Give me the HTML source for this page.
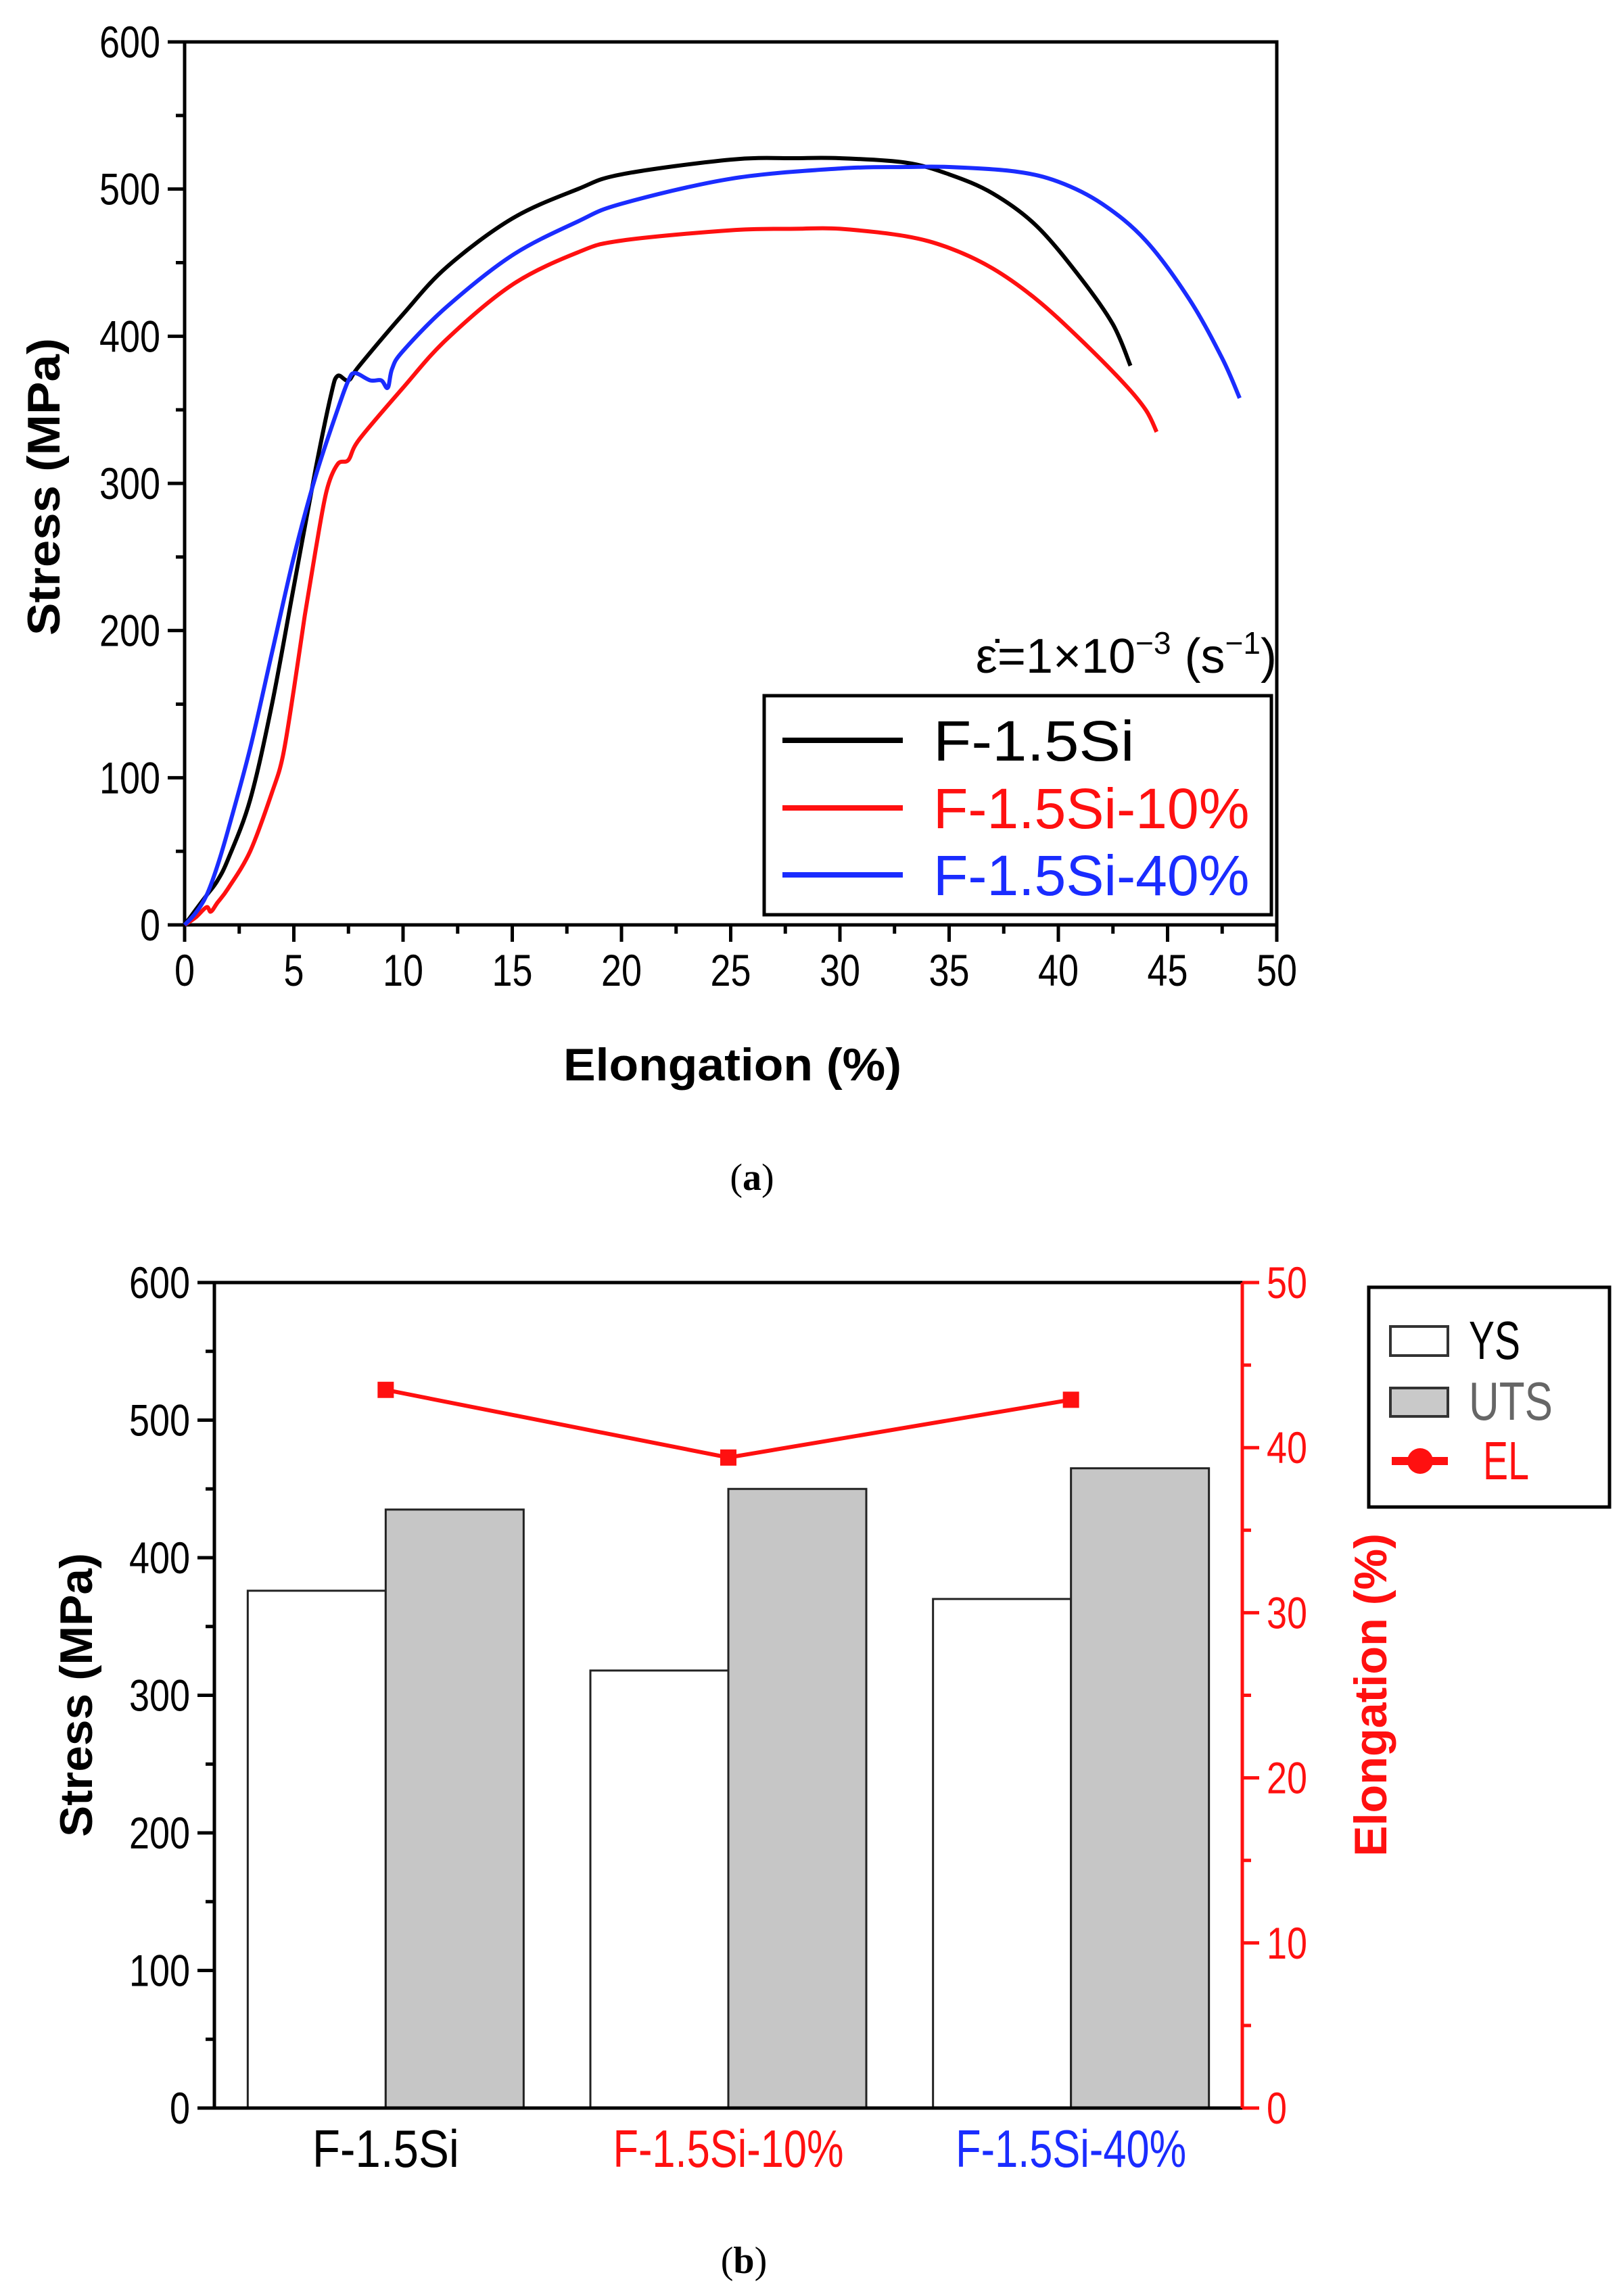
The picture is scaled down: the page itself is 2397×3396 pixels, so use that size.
<!DOCTYPE html>
<html><head><meta charset="utf-8"><style>
html,body{margin:0;padding:0;background:#fff;}
svg{display:block;font-family:"Liberation Sans Narrow","Liberation Sans",sans-serif;}
</style></head><body>
<svg id="fig" width="2397" height="3396" viewBox="0 0 2397 3396" xmlns="http://www.w3.org/2000/svg">
<g id="chartA"></g>
<g id="chartB"></g>
<text x="1112" y="1760" font-family="Liberation Serif,serif" font-size="56" text-anchor="middle">(<tspan font-weight="bold">a</tspan>)</text>
<text x="1100" y="3362" font-family="Liberation Serif,serif" font-size="56" text-anchor="middle">(<tspan font-weight="bold">b</tspan>)</text>
</svg>
<script>
// ---- Chart A data ----
const xTicksA = [0,5,10,15,20,25,30,35,40,45,50];
const yTicksA = [0,100,200,300,400,500,600];
const blackE = [0,0.5,1,1.5,2,3,4,5,6,6.7,7,7.5,8,10,12,15,18,20,25,28,30,33,35,37,39,41,42.5,43.3];
const blackS = [0,10,20,30,45,85,150,230,310,360,373,370,380,415,447,480,500,510,520,521,521,518,510,497,475,440,408,380];
const redE = [0,0.5,1,1.2,1.5,2,3,4,4.5,5,5.5,6,6.5,7,7.5,8,10,12,15,18,20,25,28,30,33,35,37,39,41,43,44,44.5];
const redS = [0,5,12,9,15,25,50,90,115,160,210,255,295,313,316,330,365,398,435,457,465,472,473,473,468,460,446,425,398,368,350,335];
const blueE = [0,0.5,1,1.5,2,3,4,5,6,7,7.5,7.8,8.5,9,9.3,9.5,10,12,15,18,20,25,30,33,35,38,40,42,44,46,47.5,48.3];
const blueS = [0,8,20,40,65,120,185,250,305,350,370,375,370,370,365,378,390,420,455,478,490,507,514,515,515,512,505,490,465,425,385,358];
const seriesNames = ["F-1.5Si","F-1.5Si-10%","F-1.5Si-40%"];
// ---- Chart B data ----
const categories = ["F-1.5Si","F-1.5Si-10%","F-1.5Si-40%"];
const ysValues = [376,318,370];
const utsValues = [435,450,465];
const elValues = [43.5,39.4,42.9];
const yTicksB = [0,100,200,300,400,500,600];
const y2TicksB = [0,10,20,30,40,50];

const NS="http://www.w3.org/2000/svg";
function mk(parent,tag,attrs,txt){const e=document.createElementNS(NS,tag);for(const k in attrs)e.setAttribute(k,attrs[k]);if(txt!==undefined)e.textContent=txt;parent.appendChild(e);return e;}
function smooth(pts){let d='M'+pts[0][0].toFixed(1)+','+pts[0][1].toFixed(1);
for(let i=0;i<pts.length-1;i++){const p0=pts[Math.max(0,i-1)],p1=pts[i],p2=pts[i+1],p3=pts[Math.min(pts.length-1,i+2)];
const c1=[p1[0]+(p2[0]-p0[0])/6,p1[1]+(p2[1]-p0[1])/6],c2=[p2[0]-(p3[0]-p1[0])/6,p2[1]-(p3[1]-p1[1])/6];
d+=' C'+c1.map(v=>v.toFixed(1)).join(',')+' '+c2.map(v=>v.toFixed(1)).join(',')+' '+p2[0].toFixed(1)+','+p2[1].toFixed(1);}
return d;}

// ===== Chart A =====
const A=document.getElementById('chartA');
const aL=273,aR=1888,aT=62,aB=1368;
const xA=v=>aL+(v-0)/50*(aR-aL);
const yA=v=>aB-(v/600)*(aB-aT);
let r=mk(A,'rect',{x:aL,y:aT,width:aR-aL,height:aB-aT,fill:'none',stroke:'#000','stroke-width':5});


for(let v=0;v<=50;v+=2.5){const maj=v%5===0;const t=mk(A,'line',{x1:xA(v),x2:xA(v),y1:aB,y2:aB+(maj?25:13),stroke:'#000','stroke-width':5});

}
for(let v=0;v<=600;v+=50){const maj=v%100===0;const t=mk(A,'line',{x1:aL,x2:aL-(maj?25:13),y1:yA(v),y2:yA(v),stroke:'#000','stroke-width':5});

}
xTicksA.forEach(v=>{const s=String(v);const t=mk(A,'text',{x:xA(v),y:aB+90,'font-size':66,'text-anchor':'middle',textLength:s.length*30,lengthAdjust:'spacingAndGlyphs'},s);

});
yTicksA.forEach(v=>{const s=String(v);const t=mk(A,'text',{x:aL-36,y:yA(v)+23,'font-size':66,'text-anchor':'end',textLength:s.length*30,lengthAdjust:'spacingAndGlyphs'},s);

});
let tt=mk(A,'text',{x:1083,y:1598,'font-size':68,'font-weight':'bold','text-anchor':'middle',textLength:500,lengthAdjust:'spacingAndGlyphs'},'Elongation (%)');


tt=mk(A,'text',{x:0,y:0,'font-size':68,'font-weight':'bold','text-anchor':'middle',transform:'translate(88,720) rotate(-90)',textLength:440,lengthAdjust:'spacingAndGlyphs'},'Stress (MPa)');


const curves=[[blackE,blackS,'#000'],[redE,redS,'#ff1010'],[blueE,blueS,'#1a2cff']];
curves.forEach((c,i)=>{const pts=c[0].map((e,j)=>[xA(e),yA(c[1][j])]);
const p=mk(A,'path',{d:smooth(pts),fill:'none',stroke:c[2],'stroke-width':6,'stroke-linejoin':'round'});

});
const ep=mk(A,'text',{x:1888,y:995,'font-size':72,'text-anchor':'end'});


ep.innerHTML='ε̇=1×10<tspan dy="-28" font-size="46">−3</tspan><tspan dy="28"> (s</tspan><tspan dy="-28" font-size="46">−1</tspan><tspan dy="28">)</tspan>';
const lg=mk(A,'g',{});


mk(lg,'rect',{x:1130,y:1029,width:750,height:324,fill:'#fff',stroke:'#000','stroke-width':5});
const lgY=[1095,1195,1294];
seriesNames.forEach((n,i)=>{const g=mk(lg,'g',{});


mk(g,'line',{x1:1157,x2:1335,y1:lgY[i],y2:lgY[i],stroke:curves[i][2],'stroke-width':8});
mk(g,'text',{x:1380,y:lgY[i]+30,'font-size':84,fill:curves[i][2],textLength:n.length*42.5,lengthAdjust:'spacingAndGlyphs'},n);});

// ===== Chart B =====
const B=document.getElementById('chartB');
const bL=317,bR=1837,bT=1897,bB=3118;
const yB=v=>bB-(v/600)*(bB-bT);
const y2B=v=>bB-(v/50)*(bB-bT);
const grpW=(bR-bL)/categories.length;
const barW=204;
const colors=['#000','#ff1010','#1a2cff'];
categories.forEach((c,i)=>{const cx=bL+grpW*(i+0.5);
let b=mk(B,'rect',{x:cx-barW,y:yB(ysValues[i]),width:barW,height:bB-yB(ysValues[i]),fill:'#fff',stroke:'#222','stroke-width':3});


b=mk(B,'rect',{x:cx,y:yB(utsValues[i]),width:barW,height:bB-yB(utsValues[i]),fill:'#c6c6c6',stroke:'#222','stroke-width':3});


const t=mk(B,'text',{x:cx,y:3205,'font-size':78,'text-anchor':'middle',fill:colors[i],textLength:c.length*31,lengthAdjust:'spacingAndGlyphs'},c);

});
const elPts=categories.map((c,i)=>[bL+grpW*(i+0.5),y2B(elValues[i])]);
const ln=mk(B,'polyline',{points:elPts.map(p=>p.join(',')).join(' '),fill:'none',stroke:'#ff1010','stroke-width':6});


elPts.forEach(p=>{const m=mk(B,'rect',{x:p[0]-12,y:p[1]-12,width:24,height:24,fill:'#ff1010'});

});
mk(B,'line',{x1:bL,x2:bR,y1:bT,y2:bT,stroke:'#000','stroke-width':5});
mk(B,'line',{x1:bL,x2:bR,y1:bB,y2:bB,stroke:'#000','stroke-width':5});
mk(B,'line',{x1:bL,x2:bL,y1:bT,y2:bB,stroke:'#000','stroke-width':5});
mk(B,'line',{x1:bR,x2:bR,y1:bT,y2:bB,stroke:'#ff1010','stroke-width':5});
for(let v=0;v<=600;v+=50){const maj=v%100===0;mk(B,'line',{x1:bL,x2:bL-(maj?25:13),y1:yB(v),y2:yB(v),stroke:'#000','stroke-width':5});}
for(let v=0;v<=50;v+=5){const maj=v%10===0;mk(B,'line',{x1:bR,x2:bR+(maj?25:13),y1:y2B(v),y2:y2B(v),stroke:'#ff1010','stroke-width':5});}
yTicksB.forEach(v=>{const s=String(v);const t=mk(B,'text',{x:bL-36,y:yB(v)+23,'font-size':66,'text-anchor':'end',textLength:s.length*30,lengthAdjust:'spacingAndGlyphs'},s);

});
y2TicksB.forEach(v=>{const s=String(v);const t=mk(B,'text',{x:bR+36,y:y2B(v)+23,'font-size':66,fill:'#ff1010',textLength:s.length*30,lengthAdjust:'spacingAndGlyphs'},s);

});
tt=mk(B,'text',{x:0,y:0,'font-size':68,'font-weight':'bold','text-anchor':'middle',transform:'translate(136,2507) rotate(-90)',textLength:420,lengthAdjust:'spacingAndGlyphs'},'Stress (MPa)');


tt=mk(B,'text',{x:0,y:0,'font-size':68,'font-weight':'bold','text-anchor':'middle',fill:'#ff1010',transform:'translate(2050,2507) rotate(-90)',textLength:478,lengthAdjust:'spacingAndGlyphs'},'Elongation (%)');


const lb=mk(B,'g',{});


mk(lb,'rect',{x:2024,y:1904,width:356,height:325,fill:'#fff',stroke:'#000','stroke-width':5});
mk(lb,'rect',{x:2056,y:1962,width:85,height:43,fill:'#fff',stroke:'#333','stroke-width':4});
mk(lb,'text',{x:2172,y:2010,'font-size':80,textLength:76,lengthAdjust:'spacingAndGlyphs'},'YS');
mk(lb,'rect',{x:2056,y:2053,width:85,height:42,fill:'#c9c9c9',stroke:'#333','stroke-width':4});
mk(lb,'text',{x:2172,y:2100,'font-size':80,fill:'#666',textLength:124,lengthAdjust:'spacingAndGlyphs'},'UTS');
mk(lb,'line',{x1:2058,x2:2141,y1:2161,y2:2161,stroke:'#ff1010','stroke-width':12});
mk(lb,'circle',{cx:2100,cy:2161,r:19,fill:'#ff1010'});
mk(lb,'text',{x:2193,y:2188,'font-size':80,fill:'#ff1010',textLength:68,lengthAdjust:'spacingAndGlyphs'},'EL');
</script>
</body></html>
